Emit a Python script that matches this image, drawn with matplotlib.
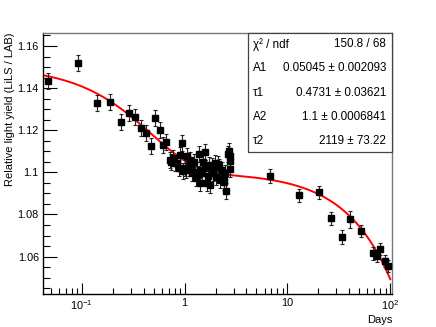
import numpy as np
import matplotlib
matplotlib.use("Agg")
import matplotlib.pyplot as plt
from matplotlib.patches import Rectangle
from matplotlib.ticker import FixedLocator, MultipleLocator, NullFormatter

plt.rcParams["font.family"] = ["Liberation Sans", "DejaVu Sans"]
plt.rcParams["mathtext.fontset"] = "custom"
plt.rcParams["mathtext.rm"] = "Liberation Sans"

# measured points (days, relative light yield)
days = [
    0.0474, 0.0929, 0.142, 0.189, 0.242, 0.285, 0.333, 0.376, 0.424, 0.474,
    0.519, 0.571, 0.616, 0.664, 0.714, 0.742, 0.764, 0.80, 0.843, 0.875,
    0.908, 0.943, 0.97, 1.0, 1.025, 1.055, 1.094, 1.12, 1.154, 1.19,
    1.224, 1.251, 1.29, 1.339, 1.368, 1.40, 1.422, 1.476, 1.51, 1.566,
    1.591, 1.652, 1.69, 1.713, 1.77, 1.85, 1.89, 1.99, 2.036, 2.10,
    2.14, 2.228, 2.313, 2.399, 2.436, 2.49, 2.548, 2.62, 2.68, 2.742,
    2.76, 2.786,
    6.83, 13.08, 20.2, 26.8, 34.1, 40.4, 51.4, 67.3, 74.7, 79.2, 88.6, 95.7,
]
light_yield = [
    1.1432, 1.1521, 1.1329, 1.1334, 1.1238, 1.1283, 1.1263, 1.1209, 1.1185, 1.1125,
    1.1260, 1.1201, 1.1130, 1.1145, 1.1058, 1.1050, 1.1067, 1.1046, 1.1043, 1.1021,
    1.1082, 1.1141, 1.1005, 1.1019, 1.1012, 1.1079, 1.1019, 1.1060, 1.1027, 1.0998,
    1.1050, 1.1003, 1.0972, 1.0991, 1.1086, 1.1010, 1.0951, 1.0995, 1.1050, 1.1019,
    1.1095, 1.0951, 1.0985, 1.1035, 1.0940, 1.1030, 1.0995, 1.1046, 1.0979, 1.1040,
    1.1027, 1.0963, 1.1011, 1.0979, 1.0955, 1.0995, 1.0911, 1.1087, 1.1103, 1.1077,
    1.1014, 1.1055,
    1.0982, 1.0891, 1.0905, 1.0781, 1.0694, 1.0778, 1.0721, 1.0615, 1.0602, 1.0636, 1.0579, 1.0556,
]
yield_err = [0.0038] * 62 + [0.0034, 0.0032, 0.0032, 0.0032, 0.0032, 0.0040, 0.0030, 0.0030, 0.0030, 0.0030, 0.0030, 0.0030]

# fit result: A1*exp(-t/tau1) + A2*exp(-t/tau2)
A1, TAU1, A2, TAU2 = 0.05045, 0.4731, 1.1, 2119.0
stat_labels = ["χ² / ndf", "A1", "τ1", "A2", "τ2"]
stat_values = ["150.8 / 68", "0.05045 ± 0.002093", "0.4731 ± 0.03621", "1.1 ± 0.0006841", "2119 ± 73.22"]

x_ticks = [0.1, 1, 10, 100]
x_tick_labels = ["$\\mathregular{10^{-1}}$", "1", "10", "$\\mathregular{10^{2}}$"]

W, H = 436, 327
fig = plt.figure(figsize=(W / 100, H / 100), dpi=100)
ax = fig.add_axes([43 / W, 1 - 294.3 / H, 349 / W, 261.6 / H])

t = np.logspace(np.log10(0.042), 2, 400)
fit = A1 * np.exp(-t / TAU1) + A2 * np.exp(-t / TAU2)
ax.plot(t, fit, color="red", lw=1.4, zorder=2)

ax.errorbar(days, light_yield, yerr=yield_err, fmt="s", color="black", ms=4.4,
            elinewidth=0.8, ecolor="#222222", capsize=1.2, capthick=0.8, zorder=3)

ax.set_xscale("log")
ax.set_xlim(0.042, 104)
ax.set_ylim(1.0421, 1.1663)

ax.xaxis.set_major_locator(FixedLocator(x_ticks))
ax.set_xticklabels(x_tick_labels)
ax.xaxis.set_minor_locator(FixedLocator([m * 10.0 ** e for e in range(-2, 3) for m in range(2, 10)]))
ax.xaxis.set_minor_formatter(NullFormatter())
ax.yaxis.set_minor_locator(MultipleLocator(0.005))
ax.set_yticks([1.06, 1.08, 1.1, 1.12, 1.14, 1.16])
ax.set_yticklabels(["1.06", "1.08", "1.1", "1.12", "1.14", "1.16"])

ax.tick_params(axis="both", which="both", direction="in", top=False, right=False,
               labelsize=7.8, width=0.8)
ax.tick_params(axis="y", which="major", length=10, pad=3)
ax.tick_params(axis="y", which="minor", length=5)
ax.tick_params(axis="x", which="major", length=8, pad=3)
ax.tick_params(axis="x", which="minor", length=4)

for side in ["left", "bottom"]:
    ax.spines[side].set_linewidth(1.0)
for side in ["top", "right"]:
    ax.spines[side].set_color("#777777")
    ax.spines[side].set_linewidth(1.0)

fig.text(392 / W, 1 - 320 / H, "Days", fontsize=8, ha="right", va="center")
fig.text(10 / W, 1 - 33 / H, "Relative light yield (LiLS / LAB)", fontsize=8,
         rotation=90, ha="center", va="top")

# statistics box
bx0, by0 = 247.7 / W, 1 - 151.7 / H
bx1, by1 = 392 / W, 1 - 32.7 / H
fig.patches.append(Rectangle((bx0, by0), bx1 - bx0, by1 - by0, transform=fig.transFigure,
                             facecolor="white", edgecolor="#444444", lw=0.9, zorder=5))
row_y = [44.3, 68.3, 92.7, 116.7, 140.7]
for label, value, py in zip(stat_labels, stat_values, row_y):
    fig.text(253 / W, 1 - py / H, label, fontsize=8.4, va="center", ha="left", zorder=6)
    fig.text(386 / W, 1 - py / H, value, fontsize=8.4, va="center", ha="right", zorder=6)

fig.savefig("out.png", dpi=100)
